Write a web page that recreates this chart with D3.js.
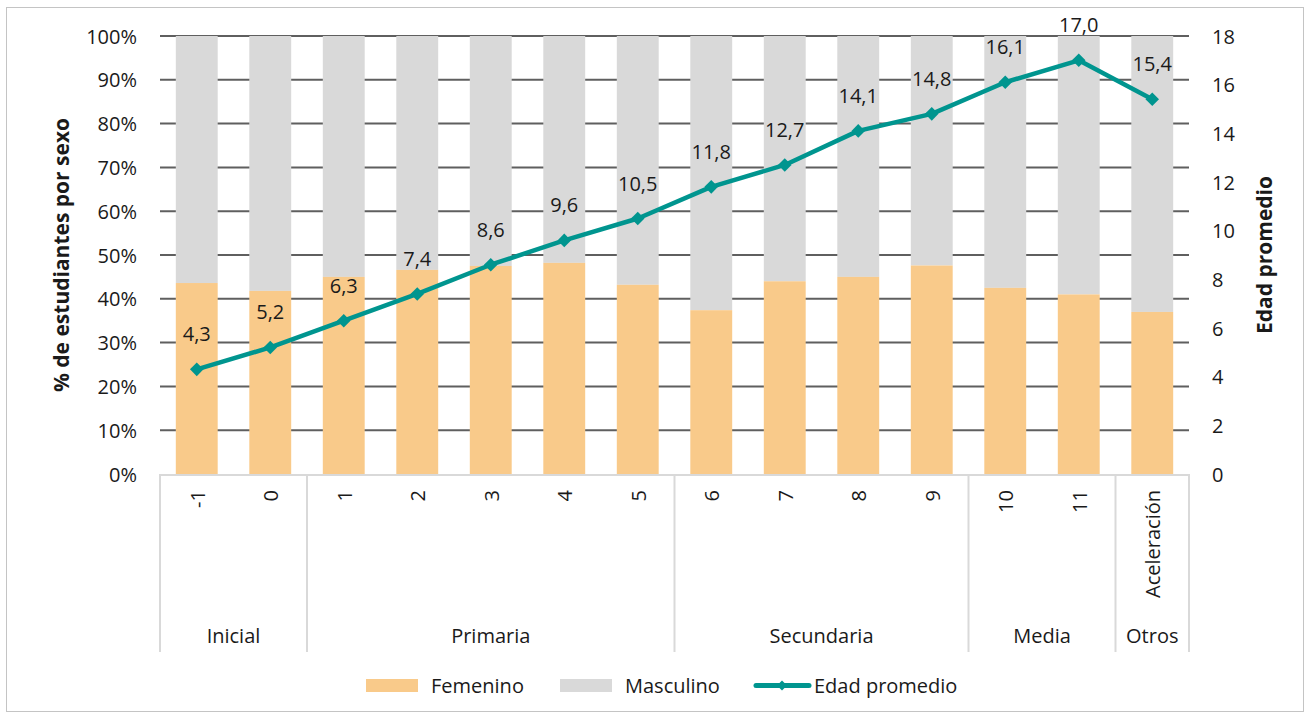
<!DOCTYPE html>
<html>
<head>
<meta charset="utf-8">
<script src="https://cdn.jsdelivr.net/npm/d3@7"></script>
<style>
  body { margin: 0; background: #fff; }
  svg text { font-family: "Open Sans", "Noto Sans", sans-serif; fill: #1a1a1a; }
</style>
</head>
<body>
<svg id="chart" width="1310" height="718"></svg>
<script>
// grades, levels and values
const grades = ['-1', '0', '1', '2', '3', '4', '5', '6', '7', '8', '9', '10', '11', 'Aceleración'];
const levels = [
  { name: 'Inicial', from: '-1', to: '0' },
  { name: 'Primaria', from: '1', to: '5' },
  { name: 'Secundaria', from: '6', to: '9' },
  { name: 'Media', from: '10', to: '11' },
  { name: 'Otros', from: 'Aceleración', to: 'Aceleración' }
];
const femenino = [43.6, 41.8, 45.0, 46.6, 47.5, 48.2, 43.2, 37.4, 44.0, 45.0, 47.6, 42.5, 41.0, 37.0];
const edad = [4.3, 5.2, 6.3, 7.4, 8.6, 9.6, 10.5, 11.8, 12.7, 14.1, 14.8, 16.1, 17.0, 15.4];
const pctTicks = [0, 10, 20, 30, 40, 50, 60, 70, 80, 90, 100];
const edadTicks = [0, 2, 4, 6, 8, 10, 12, 14, 16, 18];

const colFem = '#f9ca8a', colMasc = '#d9d9d9', colLine = '#00958f';
const fs = 20;
const svg = d3.select('#chart');

svg.append('rect').attr('x', 6.5).attr('y', 7.5).attr('width', 1297).attr('height', 704)
  .attr('fill', 'none').attr('stroke', '#c4c4c4');

const pLeft = 160, pRight = 1189, pTop = 36, pBottom = 474;

const x = d3.scaleBand().domain(grades).range([pLeft, pRight]).paddingInner(0.43).paddingOuter(0.215);
const yPct = d3.scaleLinear().domain([0, 100]).range([pBottom, pTop]);
const yAge = d3.scaleLinear().domain([0, 18]).range([pBottom, pTop]);

// gridlines
svg.append('g').selectAll('line').data(pctTicks.slice(1)).join('line')
  .attr('x1', pLeft).attr('x2', pRight)
  .attr('y1', d => yPct(d)).attr('y2', d => yPct(d))
  .attr('stroke', '#5f5f5f').attr('stroke-width', 2);

// bars
const bars = svg.append('g');
bars.selectAll('.masc').data(grades).join('rect')
  .attr('x', d => x(d)).attr('width', x.bandwidth())
  .attr('y', yPct(100)).attr('height', (d, i) => yPct(femenino[i]) - yPct(100))
  .attr('fill', colMasc);
bars.selectAll('.fem').data(grades).join('rect')
  .attr('x', d => x(d)).attr('width', x.bandwidth())
  .attr('y', (d, i) => yPct(femenino[i])).attr('height', (d, i) => yPct(0) - yPct(femenino[i]))
  .attr('fill', colFem);

// left axis
const yAxisL = svg.append('g').attr('transform', `translate(${pLeft - 23},0)`)
  .call(d3.axisLeft(yPct).tickValues(pctTicks).tickFormat(d => d + '%').tickSize(0));
yAxisL.select('.domain').remove();
yAxisL.selectAll('text').attr('font-size', fs).attr('dy', '0.35em').attr('x', 0);

// right axis
const yAxisR = svg.append('g').attr('transform', `translate(${pRight + 23},0)`)
  .call(d3.axisRight(yAge).tickValues(edadTicks).tickSize(0));
yAxisR.select('.domain').remove();
yAxisR.selectAll('text').attr('font-size', fs).attr('dy', '0.35em').attr('x', 0);

svg.append('text').attr('transform', `translate(69,${(pTop + pBottom) / 2}) rotate(-90)`)
  .attr('text-anchor', 'middle').attr('font-size', 21).attr('font-weight', 'bold')
  .text('% de estudiantes por sexo');
svg.append('text').attr('transform', `translate(1272,${(pTop + pBottom) / 2}) rotate(-90)`)
  .attr('text-anchor', 'middle').attr('font-size', 21).attr('font-weight', 'bold')
  .text('Edad promedio');

// category axis
const catBottom = 652;
const cat = svg.append('g').attr('stroke', '#d9d9d9').attr('stroke-width', 2);
cat.append('line').attr('x1', pLeft).attr('x2', pRight).attr('y1', pBottom + 1).attr('y2', pBottom + 1);
const step = x.step();
const edges = [pLeft].concat(levels.map(l => x(l.to) + x.bandwidth() / 2 + step / 2));
cat.selectAll('.sep').data(edges).join('line')
  .attr('x1', d => d).attr('x2', d => d).attr('y1', pBottom).attr('y2', catBottom);

svg.append('g').selectAll('text').data(grades).join('text')
  .attr('transform', d => `translate(${x(d) + x.bandwidth() / 2 + 8},490) rotate(-90)`)
  .attr('text-anchor', 'end').attr('font-size', fs).text(d => d);

svg.append('g').selectAll('text').data(levels).join('text')
  .attr('x', d => (x(d.from) + x(d.to) + x.bandwidth()) / 2)
  .attr('y', 643).attr('text-anchor', 'middle').attr('font-size', fs).text(d => d.name);

// line
const cx = d => x(d) + x.bandwidth() / 2;
svg.append('path').datum(grades)
  .attr('d', d3.line().x(cx).y((d, i) => yAge(edad[i])))
  .attr('fill', 'none').attr('stroke', colLine).attr('stroke-width', 4.5).attr('stroke-linejoin', 'round');
const diamond = d3.symbol().type(d3.symbolSquare).size(92);
svg.append('g').selectAll('path').data(grades).join('path')
  .attr('transform', (d, i) => `translate(${cx(d)},${yAge(edad[i])}) rotate(45)`)
  .attr('d', diamond).attr('fill', colLine);

svg.append('g').selectAll('text').data(grades).join('text')
  .attr('x', cx).attr('y', (d, i) => yAge(edad[i]) - 28)
  .attr('text-anchor', 'middle').attr('font-size', fs)
  .text((d, i) => d3.format('.1f')(edad[i]).replace('.', ','));

// legend
const lg = svg.append('g');
lg.append('rect').attr('x', 366).attr('y', 679).attr('width', 52).attr('height', 13).attr('fill', colFem);
lg.append('text').attr('x', 431).attr('y', 693).attr('font-size', fs).text('Femenino');
lg.append('rect').attr('x', 560).attr('y', 679).attr('width', 52).attr('height', 13).attr('fill', colMasc);
lg.append('text').attr('x', 625).attr('y', 693).attr('font-size', fs).text('Masculino');
lg.append('line').attr('x1', 756).attr('x2', 809).attr('y1', 685.5).attr('y2', 685.5)
  .attr('stroke', colLine).attr('stroke-width', 5).attr('stroke-linecap', 'round');
lg.append('path').attr('transform', 'translate(782,685.5) rotate(45)')
  .attr('d', d3.symbol().type(d3.symbolSquare).size(50)).attr('fill', colLine);
lg.append('text').attr('x', 814).attr('y', 693).attr('font-size', fs).text('Edad promedio');
</script>
</body>
</html>
